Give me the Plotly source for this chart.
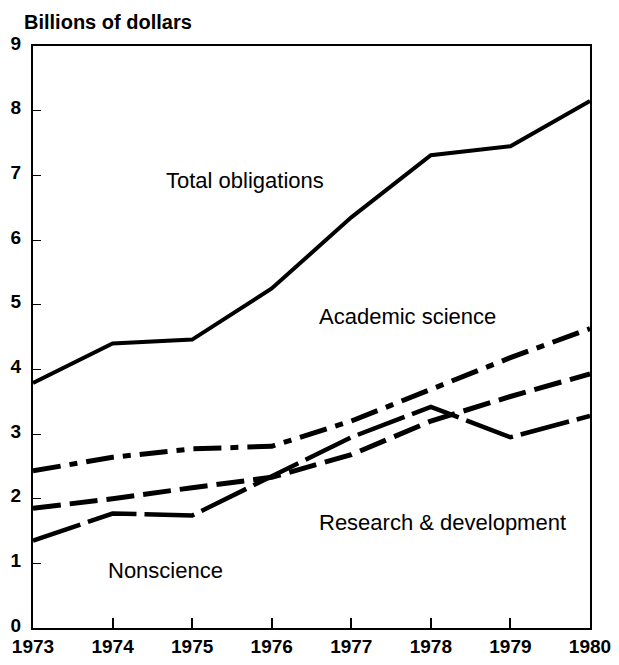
import plotly.graph_objects as go

years = [1973, 1974, 1975, 1976, 1977, 1978, 1979, 1980]
total_obligations = [3.79, 4.40, 4.46, 5.25, 6.35, 7.31, 7.45, 8.15]
academic_science = [2.43, 2.64, 2.77, 2.81, 3.20, 3.70, 4.18, 4.63]
research_development = [1.85, 2.00, 2.17, 2.33, 2.68, 3.20, 3.58, 3.93]
nonscience = [1.35, 1.77, 1.74, 2.35, 2.95, 3.42, 2.95, 3.28]

y_ticks = [0, 1, 2, 3, 4, 5, 6, 7, 8, 9]
x_ticks = years

FONT = "Liberation Sans, Arial, Helvetica, sans-serif"

fig = go.Figure()
fig.add_trace(go.Scatter(x=years, y=total_obligations, mode="lines",
                         line=dict(color="black", width=4), name="Total obligations"))
fig.add_trace(go.Scatter(x=years, y=academic_science, mode="lines",
                         line=dict(color="black", width=5, dash="28px,9px,8px,9px"),
                         name="Academic science"))
fig.add_trace(go.Scatter(x=years, y=research_development, mode="lines",
                         line=dict(color="black", width=5, dash="28px,9px"),
                         name="Research & development"))
fig.add_trace(go.Scatter(x=years, y=nonscience, mode="lines",
                         line=dict(color="black", width=4.5, dash="50px,8px"),
                         name="Nonscience"))

labels = [
    ("Total obligations", 1975.66, 6.92),
    ("Academic science", 1977.71, 4.82),
    ("Research & development", 1978.14, 1.63),
    ("Nonscience", 1974.67, 0.89),
]
for txt, lx, ly in labels:
    fig.add_annotation(x=lx, y=ly, text=txt, showarrow=False,
                       xanchor="center", yanchor="middle",
                       font=dict(family=FONT, size=22, color="black"))

fig.add_annotation(xref="paper", yref="paper", x=-0.02, y=1.041,
                   text="<b>Billions of dollars</b>", showarrow=False,
                   xanchor="left", yanchor="middle",
                   font=dict(family=FONT, size=20, color="black"))

# page body adds an 8px margin, so the figure is sized to fit the window
fig.update_layout(
    width=603, height=649,
    margin=dict(l=25, r=21, t=38, b=29),
    paper_bgcolor="white", plot_bgcolor="white",
    showlegend=False,
    font=dict(family=FONT, color="black"),
)
fig.update_xaxes(range=[1973, 1980], tickvals=x_ticks, ticktext=[f"<b>{v}</b>" for v in x_ticks],
                 ticks="inside", ticklen=10, tickwidth=1.5, tickcolor="black",
                 showline=True, linecolor="black", linewidth=2, mirror=True,
                 showgrid=False, zeroline=False, ticklabelstandoff=0, automargin=False,
                 ticklabeloverflow="allow",
                 tickfont=dict(family=FONT, size=19, color="black"))
fig.update_yaxes(range=[0, 9], tickvals=y_ticks, ticktext=[f"<b>{v}</b>" for v in y_ticks],
                 ticks="inside", ticklen=8, tickwidth=1, tickcolor="black",
                 showline=True, linecolor="black", linewidth=2, mirror=True,
                 showgrid=False, zeroline=False, ticklabelstandoff=6, automargin=False,
                 ticklabeloverflow="allow", ticklabelshift=-3,
                 tickfont=dict(family=FONT, size=19, color="black"))

fig.write_html("out.html")
